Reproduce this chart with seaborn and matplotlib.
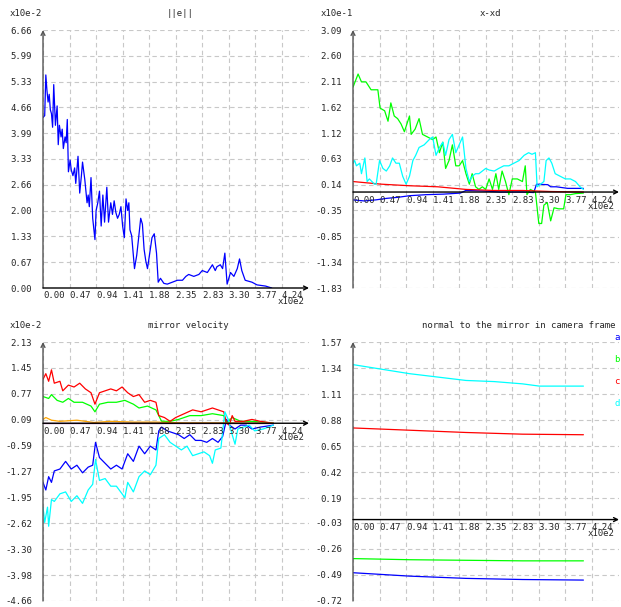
import numpy as np
import pandas as pd
import seaborn as sns
import matplotlib
matplotlib.use("Agg")
import matplotlib.pyplot as plt

sns.set_style("white")
plt.rcParams['font.family'] = ['DejaVu Sans Mono']
plt.rcParams['font.size'] = 6.5

# ViSP-like plot colours
colors = {
    "blue": "#0000ff",
    "green": "#00ff00",
    "red": "#ff0000",
    "cyan": "#00ffff",
    "orange": "#ffa500",
    "purple": "#800080",
}

# Common x tick labels (x10e2)
x_tick_labels = ["0.00", "0.47", "0.94", "1.41", "1.88", "2.35", "2.83", "3.30", "3.77", "4.24"]
x_max = 471

# ---------------- ||e|| (x10e-2) ----------------
err_it = [0, 3, 5, 7, 9, 11, 13, 15, 17, 19, 22, 25, 27, 29, 32, 34, 36, 39, 41, 43, 45, 48, 50,
          53, 56, 58, 62, 65, 68, 70, 74, 78, 80, 82, 85, 88, 92, 94, 97, 100, 103, 106, 109, 113,
          116, 120, 123, 126, 129, 132, 135, 138, 141, 144, 147, 150, 152, 154, 157, 162, 166, 169,
          173, 176, 179, 182, 185, 189, 193, 197, 201, 204, 208, 214, 220, 229, 238, 247, 253,
          258, 267, 276, 282, 291, 300, 305, 308, 314, 318, 322, 326, 332, 338, 344, 348, 352,
          358, 370, 379, 394, 405]
err_val = [4.4, 4.45, 5.5, 5.1, 4.8, 5.0, 4.6, 4.5, 4.15, 5.25, 4.2, 4.7, 3.7, 4.2, 3.9, 4.1, 3.6,
           3.9, 3.75, 4.35, 3.0, 3.3, 3.05, 2.9, 3.1, 2.7, 3.4, 2.45, 2.9, 3.25, 2.8, 2.2, 2.4, 2.1,
           2.85, 1.8, 1.25, 2.0, 2.2, 2.5, 1.6, 2.4, 1.7, 2.6, 1.7, 2.2, 1.9, 2.25, 1.95, 1.8, 1.9,
           2.1, 1.6, 1.3, 2.3, 2.0, 2.2, 1.5, 1.35, 0.5, 0.85, 1.25, 1.8, 1.65, 1.0, 0.7, 0.5, 0.9,
           1.3, 1.4, 0.9, 0.15, 0.25, 0.12, 0.1, 0.15, 0.2, 0.2, 0.3, 0.35, 0.3, 0.35, 0.45, 0.4,
           0.6, 0.45, 0.55, 0.6, 0.5, 0.9, 0.1, 0.4, 0.3, 0.5, 0.75, 0.45, 0.2, 0.15, 0.08, 0.05,
           0.0]
err_ticks = ["0.00", "0.67", "1.33", "2.00", "2.66", "3.33", "3.99", "4.66", "5.33", "5.99", "6.66"]

# ---------------- x-xd (x10e-1) ----------------
xd_blue_it = [0, 20, 40, 60, 80, 100, 130, 160, 190, 200, 230, 260, 300, 320, 325, 345, 350, 360, 380, 408]
xd_blue = [-0.15, -0.17, -0.15, -0.12, -0.1, -0.07, -0.05, -0.04, -0.02, 0.03, 0.02, 0.0, 0.0,
           -0.01, 0.15, 0.14, 0.1, 0.1, 0.07, 0.07]
xd_green_it = [0, 9, 15, 23, 32, 44, 48, 56, 62, 67, 73, 79, 85, 91, 97, 100, 103, 110, 117, 123,
               132, 141, 147, 153, 159, 164, 170, 176, 182, 188, 194, 200, 206, 211, 217, 223, 229,
               235, 241, 247, 253, 258, 264, 270, 276, 282, 291, 300, 305, 308, 314, 323, 329, 334,
               338, 344, 350, 356, 364, 373, 377, 385, 394, 408]
xd_green = [2.0, 2.25, 2.1, 2.1, 1.95, 1.95, 1.6, 1.55, 1.35, 1.7, 1.45, 1.4, 1.3, 1.15, 1.35, 1.45,
            1.1, 1.2, 1.4, 1.1, 1.05, 1.0, 1.05, 0.75, 0.95, 0.45, 0.6, 0.9, 0.5, 0.5, 0.6, 0.35,
            0.15, 0.35, 0.1, 0.05, 0.1, 0.05, 0.25, 0.05, 0.35, 0.05, 0.4, 0.2, -0.05, 0.25, 0.25,
            0.2, 0.5, -0.05, 0.05, 0.0, -0.6, -0.6, -0.25, -0.2, -0.55, -0.3, -0.32, -0.32, -0.05,
            -0.05, -0.03, -0.02]
xd_red_it = [0, 50, 100, 150, 200, 250, 300, 350, 408]
xd_red = [0.2, 0.15, 0.12, 0.1, 0.05, 0.03, 0.03, 0.01, 0.0]
xd_cyan_it = [0, 3, 6, 12, 15, 21, 25, 29, 38, 41, 47, 53, 59, 65, 70, 76, 82, 88, 94, 100, 106,
              111, 117, 126, 135, 141, 147, 153, 159, 164, 170, 176, 182, 188, 194, 200, 206, 211,
              217, 223, 229, 235, 241, 250, 258, 267, 276, 285, 294, 303, 311, 317, 323, 326, 332,
              338, 342, 347, 352, 358, 367, 376, 385, 394, 402, 408]
xd_cyan = [0.55, 0.6, 0.5, 0.55, 0.35, 0.65, 0.2, 0.25, 0.15, 0.15, 0.6, 0.45, 0.4, 0.5, 0.65,
           0.55, 0.55, 0.3, 0.15, 0.3, 0.6, 0.7, 0.85, 0.9, 1.0, 1.05, 0.7, 0.85, 0.95, 0.7, 1.0,
           1.1, 0.75, 0.9, 1.05, 0.45, 0.2, 0.3, 0.35, 0.35, 0.4, 0.45, 0.42, 0.4, 0.45, 0.5, 0.5,
           0.55, 0.6, 0.7, 0.75, 0.72, 0.75, 0.1, 0.15, 0.2, 0.6, 0.65, 0.55, 0.35, 0.3, 0.25,
           0.25, 0.2, 0.1, 0.05]
xd_ticks = ["-1.83", "-1.34", "-0.85", "-0.35", "0.14", "0.63", "1.12", "1.62", "2.11", "2.60", "3.09"]

# ---------------- mirror velocity (x10e-2) ----------------
v_blue_it = [0, 5, 10, 15, 20, 30, 40, 50, 60, 70, 80, 88, 93, 100, 110, 120, 130, 140, 150, 160,
             170, 180, 190, 200, 205, 210, 220, 230, 240, 250, 260, 270, 280, 290, 300, 310, 318,
             325, 330, 340, 350, 360, 370, 385, 408]
v_blue = [-1.55, -1.75, -1.4, -1.55, -1.25, -1.2, -1.0, -1.2, -1.1, -1.3, -1.15, -1.1, -0.5, -0.9,
          -1.05, -1.2, -1.1, -1.2, -0.8, -1.0, -0.6, -0.8, -0.6, -0.7, -0.2, -0.1, -0.2, -0.25,
          -0.3, -0.4, -0.3, -0.45, -0.45, -0.5, -0.4, -0.5, -0.35, 0.1, -0.05, -0.15, -0.05,
          -0.05, -0.15, -0.1, -0.05]
v_green_it = [0, 10, 15, 25, 35, 45, 55, 70, 85, 92, 100, 115, 130, 145, 160, 170, 185, 200, 210,
              225, 240, 260, 280, 300, 320, 325, 335, 350, 370, 390, 408]
v_green = [0.7, 0.65, 0.75, 0.6, 0.55, 0.65, 0.55, 0.55, 0.45, 0.3, 0.5, 0.55, 0.55, 0.6, 0.5, 0.4,
           0.45, 0.35, 0.05, 0.05, 0.1, 0.2, 0.2, 0.25, 0.2, 0.0, 0.15, 0.05, 0.05, 0.03, 0.0]
v_red_it = [0, 5, 10, 15, 20, 30, 35, 45, 55, 65, 75, 85, 92, 100, 110, 120, 130, 140, 150, 160,
            170, 180, 190, 200, 205, 215, 225, 235, 250, 265, 280, 290, 300, 310, 320, 325, 330,
            335, 340, 355, 370, 385, 408]
v_red = [1.15, 1.3, 1.1, 1.4, 1.05, 1.1, 0.85, 1.0, 0.95, 1.05, 0.9, 0.8, 0.5, 0.8, 0.85, 0.9, 0.85,
         0.95, 0.8, 0.7, 0.75, 0.55, 0.6, 0.55, 0.2, 0.15, 0.05, 0.15, 0.25, 0.35, 0.3, 0.35, 0.4,
         0.35, 0.3, 0.0, -0.05, 0.2, 0.05, 0.05, 0.1, 0.05, 0.0]
v_cyan_it = [0, 3, 8, 10, 15, 20, 30, 40, 50, 60, 70, 80, 88, 93, 100, 110, 120, 130, 140, 145,
             150, 160, 170, 180, 190, 200, 205, 215, 225, 235, 245, 255, 265, 275, 285, 295, 300,
             305, 315, 322, 328, 335, 340, 345, 355, 365, 375, 390, 408]
v_cyan = [-2.2, -2.6, -2.2, -2.7, -2.0, -2.05, -1.85, -1.8, -2.05, -1.9, -2.1, -1.75, -1.6, -0.95,
          -1.5, -1.45, -1.65, -1.65, -1.85, -1.95, -1.55, -1.8, -1.4, -1.25, -1.35, -1.1, -0.4,
          -0.3, -0.5, -0.6, -0.7, -0.6, -0.85, -0.8, -0.75, -0.85, -1.05, -0.7, -0.65, 0.3, 0.1,
          -0.3, -0.55, -0.15, -0.1, -0.05, -0.2, -0.15, -0.05]
v_orange_it = [0, 5, 15, 30, 60, 90, 120, 160, 200, 250, 300, 408]
v_orange = [0.1, 0.15, 0.08, 0.05, 0.08, 0.02, 0.05, 0.03, 0.03, 0.01, 0.01, 0.0]
v_purple_it = [0, 408]
v_purple = [0.0, 0.0]
v_ticks = ["-4.66", "-3.98", "-3.30", "-2.62", "-1.95", "-1.27", "-0.59", "0.09", "0.77", "1.45", "2.13"]

# ---------------- normal to the mirror ----------------
n_blue_it = [0, 100, 200, 300, 408]
n_blue = [-0.47, -0.5, -0.52, -0.53, -0.535]
n_green_it = [0, 100, 200, 300, 408]
n_green = [-0.345, -0.355, -0.36, -0.365, -0.365]
n_red_it = [0, 100, 200, 300, 408]
n_red = [0.81, 0.79, 0.77, 0.755, 0.75]
n_cyan_it = [0, 100, 150, 200, 250, 300, 330, 408]
n_cyan = [1.37, 1.29, 1.26, 1.23, 1.22, 1.2, 1.18, 1.18]
n_ticks = ["-0.72", "-0.49", "-0.26", "-0.03", "0.19", "0.42", "0.65", "0.88", "1.11", "1.34", "1.57"]
n_legend = ["a", "b", "c", "d"]


def make_frame(series):
    parts = []
    for name, it, val in series:
        parts.append(pd.DataFrame({"iter": it, "value": val, "series": name}))
    return pd.concat(parts, ignore_index=True)


def make_panel(ax, series, y_ticks, title, title_x, multiplier, mult_x):
    df = make_frame(series)
    order = [s[0] for s in series]
    sns.lineplot(data=df, x="iter", y="value", hue="series", hue_order=order,
                 palette=colors, estimator=None, linewidth=0.9, legend=False, ax=ax)

    yt = [float(t) for t in y_ticks]
    ax.set_ylim(yt[0], yt[-1])
    ax.set_xlim(0, x_max)
    ax.set_yticks(yt)
    ax.set_yticklabels(y_ticks)
    ax.set_xticks([47 * i for i in range(len(x_tick_labels))])
    ax.set_xticklabels([])
    ax.tick_params(length=0, pad=8, labelsize=6.5)
    ax.set_xlabel("")
    ax.set_ylabel("")
    for s in ax.spines.values():
        s.set_visible(False)
    ax.grid(True, linestyle=(0, (4, 3)), color="#c8c8c8", linewidth=0.8)
    ax.set_axisbelow(True)

    # axes with arrows
    ax.annotate("", xy=(0, yt[-1]), xytext=(0, yt[0]), xycoords="data",
                arrowprops=dict(arrowstyle="->", color="#555555", lw=1, shrinkA=0, shrinkB=0,
                                mutation_scale=7), annotation_clip=False)
    ax.annotate("", xy=(x_max, 0), xytext=(0, 0), xycoords="data",
                arrowprops=dict(arrowstyle="->", color="black", lw=1, shrinkA=0, shrinkB=0,
                                mutation_scale=7), annotation_clip=False)

    # x tick labels along the y=0 axis
    for i, lab in enumerate(x_tick_labels):
        ax.annotate(lab, xy=(47 * i, 0), xytext=(0, -8), textcoords="offset pixels",
                    ha="left", va="center", fontsize=6.5, annotation_clip=False)
    ax.annotate("x10e2", xy=(47 * 9, 0), xytext=(-4, -14), textcoords="offset pixels",
                ha="left", va="center", fontsize=6.5, annotation_clip=False)

    pos = ax.get_position()
    fig = ax.figure
    top_px = (1 - pos.y1) * fig.bbox.height
    fig.text(title_x / fig.bbox.width, 1 - (top_px - 16) / fig.bbox.height, title,
             ha="center", va="center", fontsize=6.5)
    if multiplier:
        fig.text(mult_x / fig.bbox.width, 1 - (top_px - 16) / fig.bbox.height, multiplier,
                 ha="left", va="center", fontsize=6.5)


W, H = 621, 607
fig = plt.figure(figsize=(W / 100, H / 100), dpi=100)
ax1 = fig.add_axes([43 / W, 1 - 288 / H, 266 / W, 258 / H])
ax2 = fig.add_axes([353 / W, 1 - 288 / H, 266 / W, 258 / H])
ax3 = fig.add_axes([43 / W, 1 - 601 / H, 266 / W, 259 / H])
ax4 = fig.add_axes([353 / W, 1 - 601 / H, 266 / W, 259 / H])

make_panel(ax1, [("blue", err_it, err_val)], err_ticks, "||e||", 180, "x10e-2", 10)
make_panel(ax2, [("blue", xd_blue_it, xd_blue), ("green", xd_green_it, xd_green),
                 ("red", xd_red_it, xd_red), ("cyan", xd_cyan_it, xd_cyan)],
           xd_ticks, "x-xd", 490, "x10e-1", 321)
make_panel(ax3, [("blue", v_blue_it, v_blue), ("green", v_green_it, v_green),
                 ("red", v_red_it, v_red), ("cyan", v_cyan_it, v_cyan),
                 ("orange", v_orange_it, v_orange), ("purple", v_purple_it, v_purple)],
           v_ticks, "mirror velocity", 188, "x10e-2", 10)
make_panel(ax4, [("blue", n_blue_it, n_blue), ("green", n_green_it, n_green),
                 ("red", n_red_it, n_red), ("cyan", n_cyan_it, n_cyan)],
           n_ticks, "normal to the mirror in camera frame", 519, None, 0)

# legend of the normal panel
for i, (lab, c) in enumerate(zip(n_legend, ["blue", "green", "red", "cyan"])):
    fig.text(617 / W, 1 - (338 + 22 * i) / H, lab, color=colors[c], ha="center",
             va="center", fontsize=6.5)

fig.savefig("out.png", dpi=100)
